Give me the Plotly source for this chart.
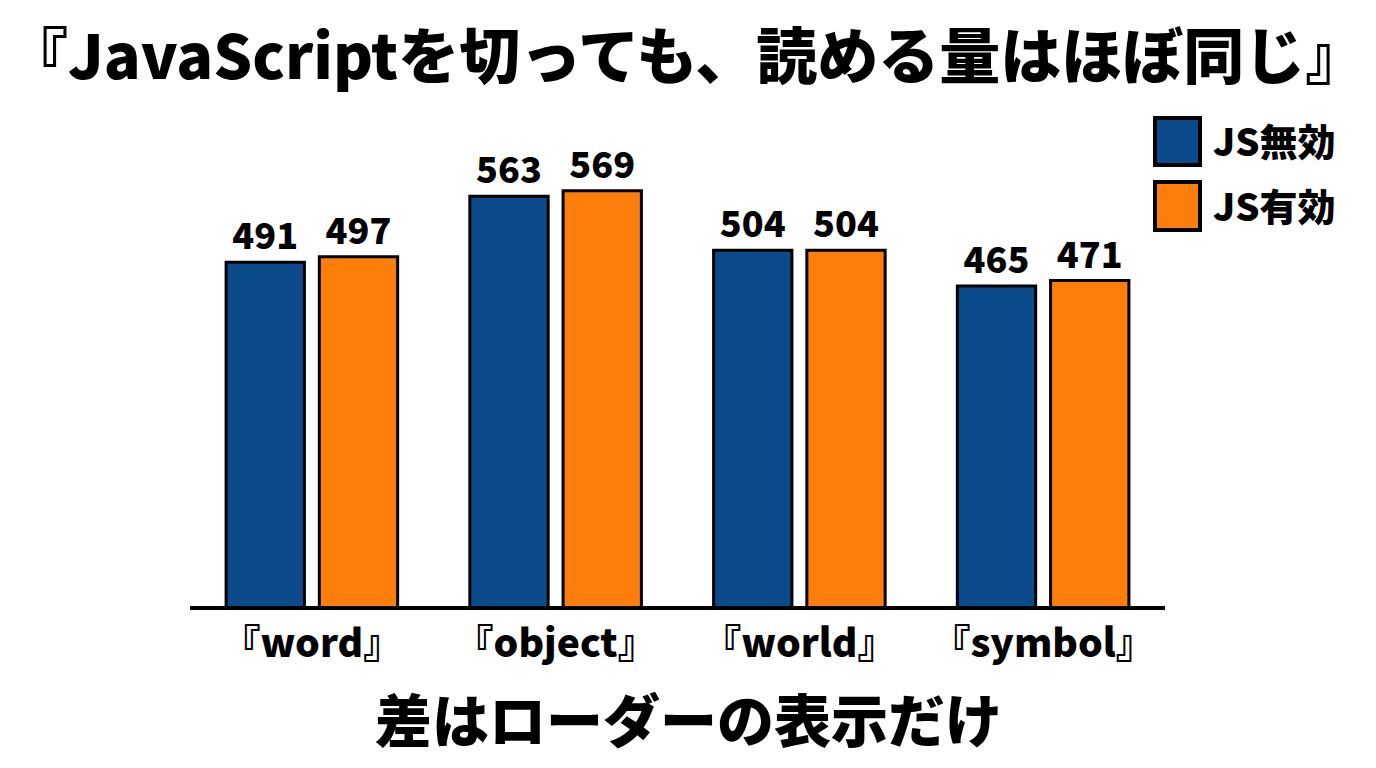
import plotly.graph_objects as go

# data
categories = ["『word』", "『object』", "『world』", "『symbol』"]
js_off = [491, 563, 504, 465]
js_on = [497, 569, 504, 471]
series_names = ["JS無効", "JS有効"]

title_text = "『JavaScriptを切っても、読める量はほぼ同じ』"
note_text = "差はローダーの表示だけ"

BLUE = "#0b4a8b"
ORANGE = "#fd7e0c"
FONT = "Noto Sans CJK JP"

# the page adds an 8px body margin, so work in reference pixels minus 8
OFF = 8
FIG_W, FIG_H = 1376 - 2 * OFF, 768 - 2 * OFF
L, W = 190 - OFF, 975
T, BASE = 110 - OFF, 606 - OFF
H = BASE - T


def px_x(p):
    return (p - OFF - L) / W


def px_y(p):
    return (BASE - (p - OFF)) / H


fig = go.Figure()

for name, vals, color in [(series_names[0], js_off, BLUE), (series_names[1], js_on, ORANGE)]:
    fig.add_trace(go.Bar(
        x=categories, y=vals, name=name,
        marker=dict(color=color, line=dict(color="black", width=3)),
        text=vals, texttemplate="%{text}", textposition="outside",
        textfont=dict(family=FONT, size=36, color="black", weight=900),
        cliponaxis=False, showlegend=False,
    ))

# legend drawn by hand so the swatches can be big squares
legend_rows = [(series_names[0], BLUE, 118, 165), (series_names[1], ORANGE, 182, 230)]
for name, color, top, bot in legend_rows:
    fig.add_shape(type="rect", xref="paper", yref="paper",
                  x0=px_x(1155), x1=px_x(1200), y0=px_y(bot), y1=px_y(top),
                  fillcolor=color, line=dict(color="black", width=4))
    fig.add_annotation(text=name, xref="paper", yref="paper",
                       x=px_x(1211), y=px_y((top + bot) / 2 - 2),
                       xanchor="left", yanchor="middle", showarrow=False,
                       font=dict(family=FONT, size=38, color="black", weight=900))

# title and footer as plain annotations
fig.add_annotation(text=title_text, xref="paper", yref="paper",
                   x=px_x(686), y=px_y(52), xanchor="center", yanchor="middle",
                   showarrow=False,
                   font=dict(family=FONT, size=61, color="black", weight=900))
fig.add_annotation(text=note_text, xref="paper", yref="paper",
                   x=px_x(688), y=px_y(717), xanchor="center", yanchor="middle",
                   showarrow=False,
                   font=dict(family=FONT, size=57, color="black", weight=900))

fig.update_layout(
    width=FIG_W, height=FIG_H,
    margin=dict(l=L, r=FIG_W - L - W, t=T, b=FIG_H - BASE),
    paper_bgcolor="white", plot_bgcolor="white",
    barmode="group", bargap=0.235, bargroupgap=0.16,
    font=dict(family=FONT, color="black"),
)
fig.update_xaxes(showline=True, linecolor="black", linewidth=4,
                 showgrid=False, ticks="", ticklabelstandoff=0,
                 tickfont=dict(family=FONT, size=39, color="black", weight=900))
fig.update_yaxes(range=[116, 657], visible=False, showgrid=False)

fig.write_html("out.html")
